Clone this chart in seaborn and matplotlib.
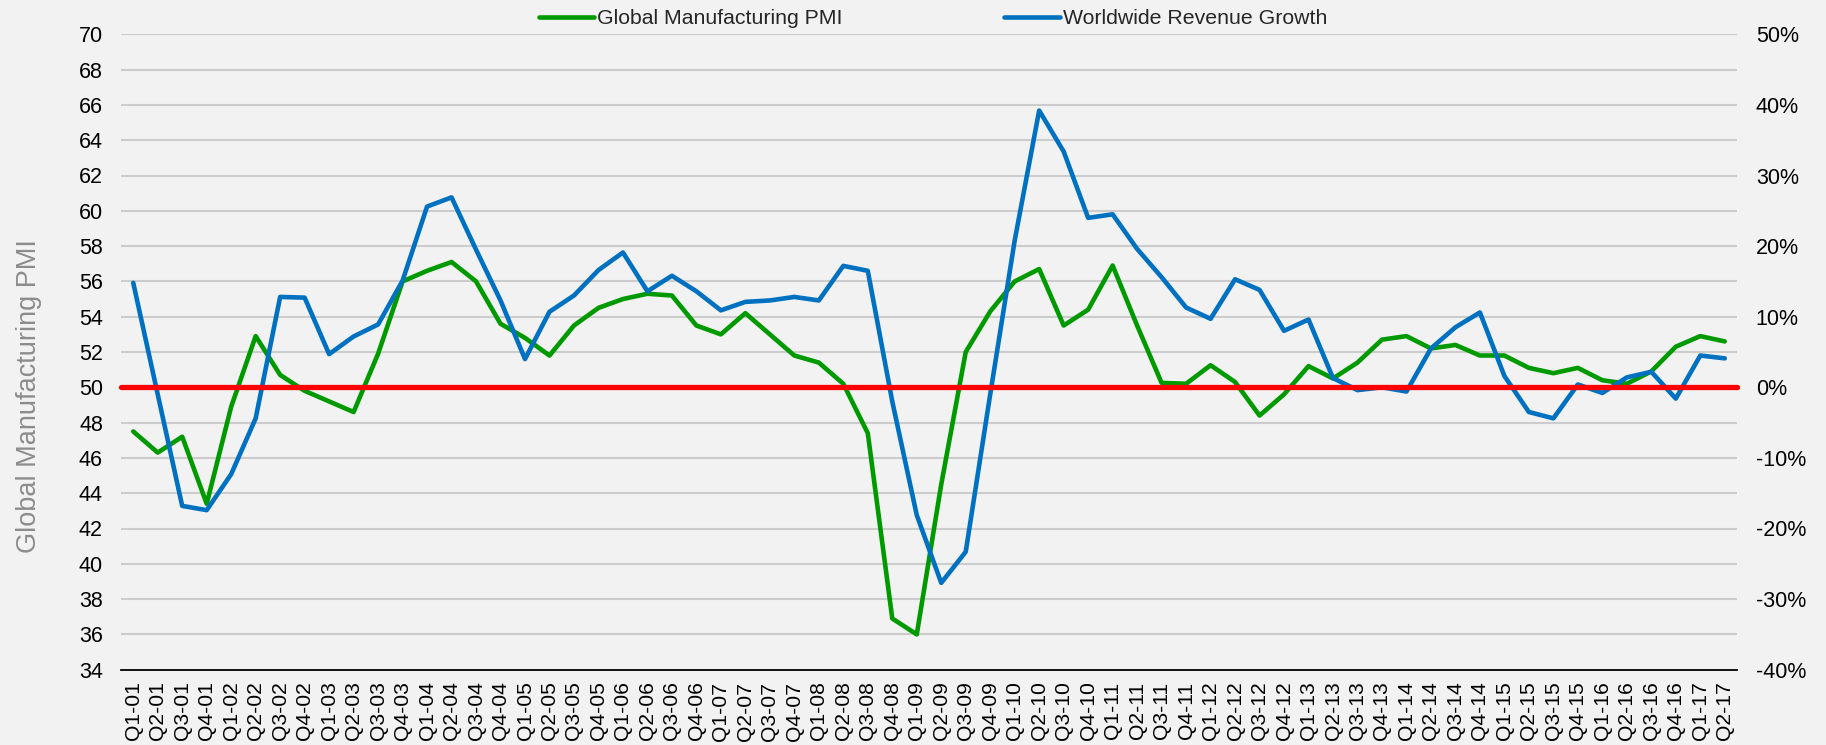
import matplotlib
matplotlib.use('Agg')
import matplotlib.pyplot as plt
import matplotlib.ticker as mtick
import seaborn as sns
import pandas as pd
import numpy as np

# quarter labels Q1-01 .. Q2-17
quarters = [f'Q{q}-{y:02d}' for y in range(1, 18) for q in range(1, 5)][:66]

pmi = [47.5, 46.3, 47.2, 43.4,
       48.9, 52.9, 50.7, 49.8,
       49.2, 48.6, 51.9, 56.0,
       56.6, 57.1, 56.0, 53.6,
       52.8, 51.8, 53.5, 54.5,
       55.0, 55.3, 55.2, 53.5,
       53.0, 54.2, 53.0, 51.8,
       51.4, 50.2, 47.4, 36.9,
       36.0, 44.5, 52.0, 54.3,
       56.0, 56.7, 53.5, 54.4,
       56.9, 53.5, 50.25, 50.2,
       51.25, 50.3, 48.4, 49.6,
       51.2, 50.5, 51.4, 52.7,
       52.9, 52.2, 52.4, 51.8,
       51.8, 51.1, 50.8, 51.1,
       50.4, 50.2, 50.9, 52.3,
       52.9, 52.6]

revenue_growth = [14.8, -1.0, -16.8, -17.4,
                  -12.3, -4.4, 12.8, 12.7,
                  4.7, 7.2, 8.9, 15.1,
                  25.6, 26.9, 19.5, 12.3,
                  4.0, 10.7, 13.0, 16.6,
                  19.1, 13.6, 15.8, 13.6,
                  10.9, 12.1, 12.3, 12.8,
                  12.3, 17.2, 16.5, -2.0,
                  -18.1, -27.7, -23.3, -1.0,
                  20.8, 39.2, 33.4, 24.0,
                  24.5, 19.6, 15.6, 11.3,
                  9.7, 15.3, 13.8, 8.0,
                  9.6, 1.3, -0.4, 0.0,
                  -0.6, 5.5, 8.5, 10.6,
                  1.6, -3.5, -4.4, 0.4,
                  -0.8, 1.4, 2.2, -1.6,
                  4.5, 4.1]

pmi_ticks = list(range(34, 71, 2))
growth_ticks = list(range(-40, 51, 10))

df = pd.DataFrame({'quarter': quarters, 'pmi': pmi, 'growth': revenue_growth})
df['pos'] = np.arange(len(df))

bg = '#f2f2f2'
sns.set_theme(style='white')
plt.rcParams['font.family'] = ['Liberation Sans', 'DejaVu Sans']

fig = plt.figure(figsize=(18.26, 7.45), dpi=100, facecolor=bg)
ax = fig.add_axes([121 / 1826, 1 - 669.7 / 745, (1737 - 121) / 1826, (669.7 - 34.3) / 745])
ax.set_facecolor(bg)
ax2 = ax.twinx()

ax.set_ylim(34, 70)
ax2.set_ylim(-40, 50)
ax.set_xlim(-0.5, len(df) - 0.5)
ax.set_yticks(pmi_ticks)
ax2.set_yticks(growth_ticks)
ax2.yaxis.set_major_formatter(mtick.FuncFormatter(lambda v, p: f'{v:.0f}%'))

for t in pmi_ticks[1:]:
    ax.axhline(t, color='#cccccc', lw=1.5, zorder=0)

sns.lineplot(data=df, x='pos', y='growth', ax=ax2, color='#0070c0', lw=3.3,
             label='Worldwide Revenue Growth', legend=False)
sns.lineplot(data=df, x='pos', y='pmi', ax=ax, color='#009a00', lw=3.3,
             label='Global Manufacturing PMI', legend=False)
ax2.axhline(0, color='#ff0000', lw=3.8, zorder=5, clip_on=False)

ax.set_xticks(df['pos'])
ax.set_xticklabels(df['quarter'], rotation=90, fontsize=15.2, color='black')
ax.tick_params(axis='x', length=0, pad=8.5)
ax.tick_params(axis='y', length=0, pad=13, labelsize=15.5, labelcolor='black')
ax2.tick_params(axis='y', length=0, pad=13.5, labelsize=15.5, labelcolor='black')
ax.set_xlabel('')
ax2.set_ylabel('')
ax.set_ylabel('Global Manufacturing PMI', fontsize=19.5, color='#8c8c8c')
ax.yaxis.set_label_coords(-0.0489, 0.431)

for a in (ax, ax2):
    for s in ('top', 'left', 'right', 'bottom'):
        a.spines[s].set_visible(False)
ax.spines['bottom'].set_visible(True)
ax.spines['bottom'].set_color('black')
ax.spines['bottom'].set_linewidth(1.3)

h1, l1 = ax.get_legend_handles_labels()
h2, l2 = ax2.get_legend_handles_labels()
fig.legend(h1 + h2, l1 + l2, loc='upper center', bbox_to_anchor=(0.511, 1.013),
           ncol=2, frameon=False, fontsize=15.3, handlelength=2.6,
           handletextpad=0.15, columnspacing=7.6)

fig.savefig('out.png', dpi=100, facecolor=bg)
